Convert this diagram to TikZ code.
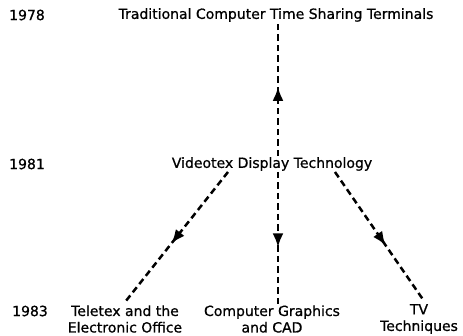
\documentclass[tikz,border=0pt]{standalone}
\usepackage{fontspec}
\setmainfont[FakeBold=0.8]{DejaVu Sans}
\usetikzlibrary{decorations.markings,arrows.meta}
\tikzset{
  lbl/.style={inner sep=1pt, font=\fontsize{14}{16.5}\selectfont, align=center},
  yr/.style={inner sep=1pt, font=\fontsize{14}{16.5}\selectfont},
  conn/.style={line width=2.5pt, dash pattern=on 6.5pt off 4pt,
    postaction={decorate},
    decoration={markings, mark=at position #1 with {\arrow{Latex[length=14pt,width=11pt]}}}},
  conn/.default=0.5
}
\begin{document}
\begin{tikzpicture}[x=1pt,y=-1pt]
\useasboundingbox (0,0) rectangle (463,336);
\node[yr] (y78) at (27,15) {1978};
\node[yr] (y81) at (27,164) {1981};
\node[yr] (y83) at (30,311) {1983};
\node[lbl] (trad) at (276,15) {Traditional Computer Time Sharing Terminals};
\node[lbl] (vid) at (272,164) {Videotex Display Technology};
\node[lbl] (tele) at (125,319) {Teletex and the\\Electronic Office};
\node[lbl] (cg) at (272,319) {Computer Graphics\\and CAD};
\node[lbl] (tv) at (419,319) {TV\\Techniques};
\draw[conn=0.52] ([xshift=6pt]vid.north) -- ([xshift=2pt]trad.south);
\draw[conn=0.55] ([xshift=-44pt]vid.south) -- ([yshift=2pt]tele.north);
\draw[conn=0.57] ([xshift=6pt]vid.south) -- ([xshift=6pt]cg.north);
\draw[conn=0.57] ([xshift=63pt]vid.south) -- ([xshift=5pt,yshift=2pt]tv.north);
\end{tikzpicture}
\end{document}
